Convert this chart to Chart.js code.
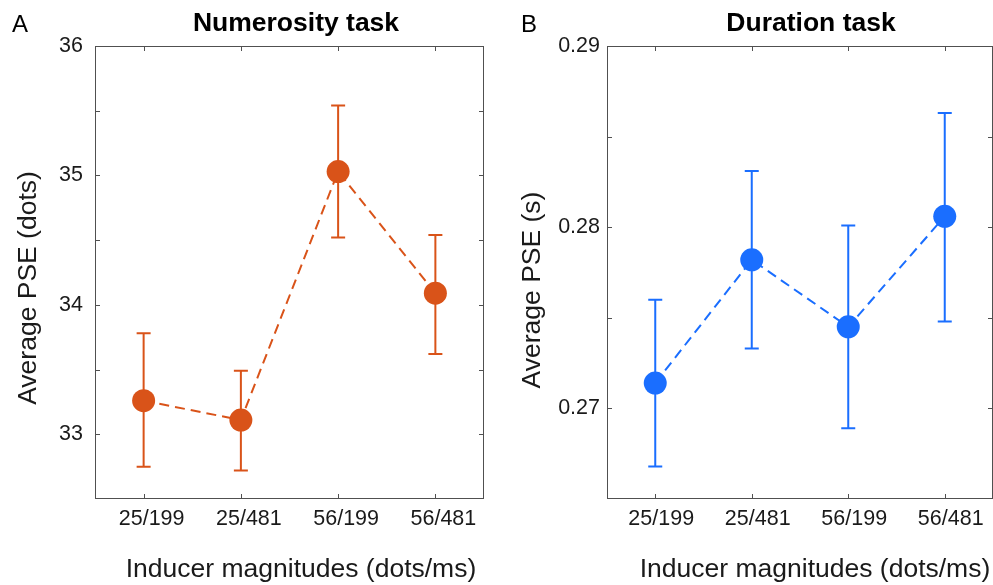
<!DOCTYPE html>
<html>
<head>
<meta charset="utf-8">
<script src="https://cdn.jsdelivr.net/npm/chart.js@4.4.1/dist/chart.umd.min.js"></script>
<style>
  html, body { margin: 0; padding: 0; background: #fff; overflow: hidden; }
  #wrap { position: relative; width: 993px; height: 585px; }
  canvas { position: absolute; top: 0; }
  #numChart { left: 0; }
  #durChart { left: 497px; }
</style>
</head>
<body>
<div id="wrap">
  <canvas id="numChart" width="496" height="585"></canvas>
  <canvas id="durChart" width="500" height="585"></canvas>
</div>
<script>
// categories (inducer magnitudes, dots/ms)
const categories = ["25/199", "25/481", "56/199", "56/481"];

// numerosity task, PSE in dots
const numMean = [33.26, 33.11, 35.03, 34.09];
const numLow = [32.75, 32.72, 34.52, 33.62];
const numHigh = [33.78, 33.49, 35.54, 34.54];

// duration task, PSE in seconds
const durMean = [0.2714, 0.2782, 0.2745, 0.2806];
const durLow = [0.2668, 0.2733, 0.2689, 0.2748];
const durHigh = [0.2760, 0.2831, 0.2801, 0.2863];

const FONT = "'Liberation Sans', Arial, Helvetica, sans-serif";
const ORANGE = "#d95319";
const BLUE = "#1a6eff";

// box, inward ticks, error bars and the loose text
const panelPlugin = {
  id: "panel",
  beforeDatasetsDraw(chart, args, opts) {
    const { ctx, chartArea: a, scales: { x, y } } = chart;
    ctx.save();
    ctx.strokeStyle = "#505050";
    ctx.lineWidth = 1;
    ctx.strokeRect(a.left + 0.5, a.top + 0.5, a.width - 1, a.height - 1);
    ctx.beginPath();
    y.ticks.forEach((t) => {
      if (t.value <= y.min || t.value >= y.max) return;
      const py = Math.round(y.getPixelForValue(t.value)) + 0.5;
      ctx.moveTo(a.left, py); ctx.lineTo(a.left + 5, py);
      ctx.moveTo(a.right, py); ctx.lineTo(a.right - 5, py);
    });
    categories.forEach((c, i) => {
      const px = Math.round(x.getPixelForValue(i)) + 0.5;
      ctx.moveTo(px, a.top); ctx.lineTo(px, a.top + 5);
      ctx.moveTo(px, a.bottom); ctx.lineTo(px, a.bottom - 5);
    });
    ctx.stroke();

    // error bars
    ctx.strokeStyle = opts.color;
    ctx.lineWidth = 2;
    ctx.beginPath();
    opts.low.forEach((lo, i) => {
      const px = x.getPixelForValue(i);
      const y0 = y.getPixelForValue(lo);
      const y1 = y.getPixelForValue(opts.high[i]);
      ctx.moveTo(px, y0); ctx.lineTo(px, y1);
      ctx.moveTo(px - 7, y0); ctx.lineTo(px + 7, y0);
      ctx.moveTo(px - 7, y1); ctx.lineTo(px + 7, y1);
    });
    ctx.stroke();
    ctx.restore();
  },
  afterDraw(chart, args, opts) {
    const ctx = chart.ctx;
    ctx.save();
    ctx.fillStyle = "#000";
    ctx.textBaseline = "alphabetic";

    ctx.font = "24px " + FONT;
    ctx.textAlign = "left";
    ctx.fillText(opts.letter, opts.letterX, 32);

    ctx.font = "bold 26.5px " + FONT;
    ctx.textAlign = "center";
    ctx.fillText(opts.title, opts.titleX, 31);

    ctx.fillStyle = "#1a1a1a";
    ctx.font = "26.5px " + FONT;
    ctx.fillText("Inducer magnitudes (dots/ms)", opts.xTitleX, 577);

    ctx.translate(opts.yTitleX, opts.yTitleY);
    ctx.rotate(-Math.PI / 2);
    ctx.fillText(opts.yTitle, 0, 0);
    ctx.restore();
  }
};

function makePanel(id, cfg) {
  return new Chart(document.getElementById(id), {
    type: "line",
    data: {
      labels: categories,
      datasets: [{
        data: cfg.mean,
        borderColor: cfg.color,
        borderWidth: 2,
        borderDash: [10, 6],
        pointRadius: 11.5,
        pointHoverRadius: 11.5,
        pointBackgroundColor: cfg.color,
        pointBorderWidth: 0,
        tension: 0
      }]
    },
    options: {
      responsive: false,
      animation: false,
      events: [],
      layout: { autoPadding: false, padding: { top: 46, right: cfg.padRight, bottom: 0, left: 0 } },
      plugins: {
        legend: { display: false },
        tooltip: { enabled: false },
        panel: {
          color: cfg.color, low: cfg.low, high: cfg.high,
          letter: cfg.letter, letterX: cfg.letterX,
          title: cfg.title, titleX: cfg.titleX,
          yTitle: cfg.yTitle, yTitleX: cfg.yTitleX, yTitleY: cfg.yTitleY,
          xTitleX: cfg.xTitleX
        }
      },
      scales: {
        x: {
          type: "category",
          offset: true,
          grid: { display: false, drawTicks: false },
          border: { display: false },
          ticks: {
            color: "#1a1a1a",
            font: { family: FONT, size: 21.5 },
            padding: 7,
            maxRotation: 0,
            autoSkip: false,
            labelOffset: cfg.labelOffset
          },
          afterFit: (s) => { s.height = 86; s.paddingLeft = 0; s.paddingRight = 0; }
        },
        y: {
          min: cfg.min,
          max: cfg.max,
          grid: { display: false, drawTicks: false },
          border: { display: false },
          ticks: {
            stepSize: cfg.step,
            autoSkip: false,
            color: "#1a1a1a",
            font: { family: FONT, size: 21.5 },
            padding: cfg.tickPad,
            callback: cfg.tickLabel
          },
          afterFit: (s) => { s.width = cfg.axisWidth; }
        }
      }
    },
    plugins: [panelPlugin]
  });
}

makePanel("numChart", {
  mean: numMean, low: numLow, high: numHigh, color: ORANGE,
  min: 32.5, max: 36, step: 0.5,
  tickLabel: (v) => (Math.abs(v - Math.round(v)) < 1e-6 ? String(Math.round(v)) : ""),
  axisWidth: 95, padRight: 12, tickPad: 12, labelOffset: 8,
  letter: "A", letterX: 12,
  title: "Numerosity task", titleX: 296,
  yTitle: "Average PSE (dots)", yTitleX: 36, yTitleY: 288,
  xTitleX: 301
});

makePanel("durChart", {
  mean: durMean, low: durLow, high: durHigh, color: BLUE,
  min: 0.265, max: 0.29, step: 0.005,
  tickLabel: (v) => (Math.abs(v * 100 - Math.round(v * 100)) < 1e-6 ? v.toFixed(2) : ""),
  axisWidth: 110, padRight: 4, tickPad: 7, labelOffset: 6,
  letter: "B", letterX: 24,
  title: "Duration task", titleX: 314,
  yTitle: "Average PSE (s)", yTitleX: 43, yTitleY: 290,
  xTitleX: 318
});
</script>
</body>
</html>
